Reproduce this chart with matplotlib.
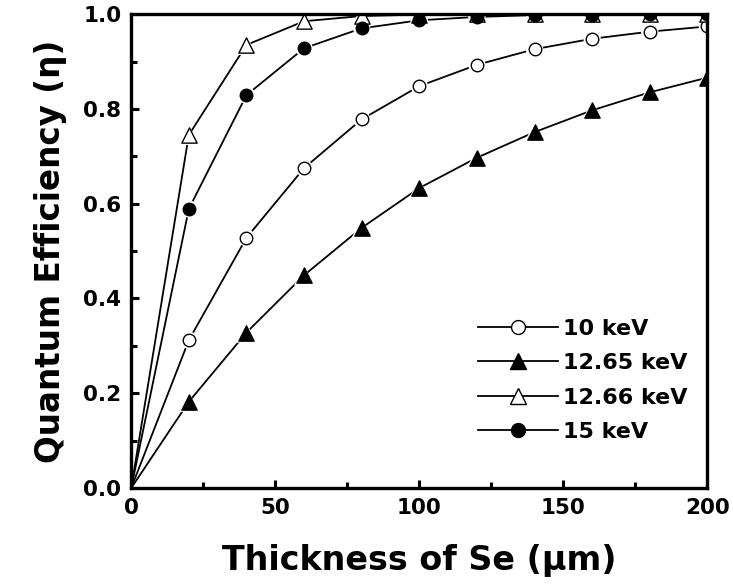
import matplotlib
matplotlib.use("Agg")
import matplotlib.pyplot as plt
from matplotlib.ticker import MultipleLocator, FormatStrFormatter
from matplotlib.patches import Rectangle

plt.rcParams['font.family'] = ['DejaVu Sans']
plt.rcParams['font.weight'] = 'bold'

# data
thickness = [0, 20, 40, 60, 80, 100, 120, 140, 160, 180, 200]
qe_10 = [0, 0.312, 0.528, 0.675, 0.778, 0.848, 0.893, 0.926, 0.948, 0.963, 0.974]
qe_1265 = [0, 0.182, 0.328, 0.449, 0.549, 0.633, 0.697, 0.751, 0.797, 0.835, 0.866]
qe_1266 = [0, 0.745, 0.935, 0.985, 0.996, 0.999, 1.0, 1.0, 1.0, 1.0, 1.0]
qe_15 = [0, 0.589, 0.829, 0.928, 0.970, 0.987, 0.994, 0.998, 0.999, 1.0, 1.0]

labels = ['10 keV', '12.65 keV', '12.66 keV', '15 keV']
series = [qe_10, qe_1265, qe_1266, qe_15]
markers = ['o', '^', '^', 'o']
faces = ['white', 'black', 'white', 'black']
sizes = [9, 11, 11, 9]

fig = plt.figure(figsize=(7.33, 5.88), dpi=100)
ax = fig.add_axes([0.179, 0.170, 0.786, 0.806])

for y, m, fc, ms, lab in zip(series, markers, faces, sizes, labels):
    ax.plot(thickness, y, '-', color='black', lw=1.3, zorder=2)
    # white halo so the line stops short of the marker
    ax.scatter(thickness[1:], y[1:], s=(ms + 3.5) ** 2, marker=m, c='white',
               edgecolors='none', zorder=3)
    ax.scatter(thickness[1:], y[1:], s=ms ** 2, marker=m, c=fc,
               edgecolors='black', linewidths=1.0, zorder=4)
    ax.plot([], [], '-', marker=m, ms=ms + 1, mfc=fc, mec='black', color='black',
            lw=1.3, label=lab)

# mask marker parts that stick out past the top and right frame
ax.add_patch(Rectangle((0, 1), 1.1, 0.1, transform=ax.transAxes, color='white',
                       clip_on=False, zorder=4.5))
ax.add_patch(Rectangle((1, 0), 0.1, 1.1, transform=ax.transAxes, color='white',
                       clip_on=False, zorder=4.5))

ax.set_xlim(0, 200)
ax.set_ylim(0, 1.0)
ax.xaxis.set_major_locator(MultipleLocator(50))
ax.xaxis.set_minor_locator(MultipleLocator(25))
ax.yaxis.set_major_locator(MultipleLocator(0.2))
ax.yaxis.set_minor_locator(MultipleLocator(0.1))
ax.yaxis.set_major_formatter(FormatStrFormatter('%.1f'))

for s in ax.spines.values():
    s.set_linewidth(2.4)
    s.set_zorder(5)
ax.tick_params(which='major', direction='in', length=6, width=2.2, labelsize=15.5, pad=7)
ax.tick_params(which='minor', direction='in', length=4, width=2.2)
for t in ax.get_xticklabels() + ax.get_yticklabels():
    t.set_fontweight('bold')

ax.set_xlabel(u'Thickness of Se (\u03bcm)', fontsize=24, fontweight='bold', labelpad=19)
ax.set_ylabel(u'Quantum Efficiency (\u03b7)', fontsize=23.5, fontweight='bold', labelpad=12)

leg = ax.legend(loc='lower right', bbox_to_anchor=(1.0, 0.055), frameon=False,
                prop={'size': 16, 'weight': 'bold'}, handlelength=3.6,
                labelspacing=0.65, handletextpad=0.2)

fig.savefig('out.png', dpi=100)
